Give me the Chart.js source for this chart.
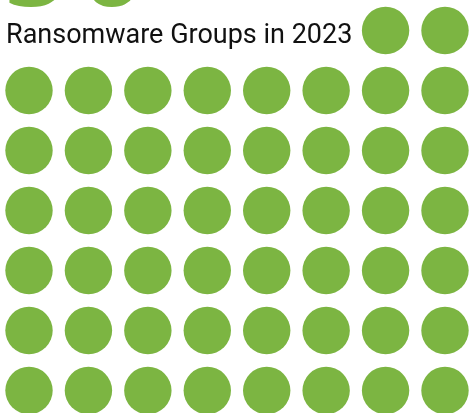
<!DOCTYPE html>
<html>
<head>
<meta charset="utf-8">
<script src="https://cdn.jsdelivr.net/npm/chart.js@4"></script>
<style>
html,body{margin:0;padding:0;background:#fff;overflow:hidden;}
#wrap{position:absolute;left:0;top:0;width:469px;height:413px;}
</style>
</head>
<body>
<div id="wrap"><canvas id="c" width="469" height="413"></canvas></div>
<script>
// ---- data ----
const headline = "50";
const titleText = "Ransomware Groups in 2023";
const groupCount = [50];          // number of ransomware groups (one dot each)
const columnsPerRow = [8];        // waffle width
const firstRowDots = [2];         // dots sharing the title row

const green = "rgb(124,181,66)";

// build dot positions (unit grid) from the count
const dots = [];
const total = groupCount[0];
const cols = columnsPerRow[0];
const first = firstRowDots[0];
for (let i = 0; i < first; i++) dots.push({x: cols - first + i, y: 0});
for (let i = 0; i < total - first; i++) dots.push({x: i % cols, y: 1 + Math.floor(i / cols)});

const textPlugin = {
  id: 'texts',
  afterDraw(chart) {
    const ctx = chart.ctx;
    ctx.save();
    ctx.fillStyle = green;
    ctx.font = "bold 112px 'Open Sans'";
    ctx.textBaseline = "alphabetic";
    ctx.textAlign = "left";
    try { ctx.letterSpacing = "12px"; } catch (e) {}
    ctx.fillText(headline, 4, 6);
    try { ctx.letterSpacing = "0px"; } catch (e) {}
    ctx.fillStyle = "#111";
    ctx.font = "27px Roboto";
    ctx.fillText(titleText, 6, 43);
    ctx.restore();
  }
};

new Chart(document.getElementById('c'), {
  type: 'scatter',
  data: {
    datasets: [{
      data: dots,
      backgroundColor: green,
      borderWidth: 0,
      pointRadius: 23.7,
      pointHoverRadius: 23.7
    }]
  },
  options: {
    responsive: false,
    animation: false,
    layout: {padding: 0, autoPadding: false},
    plugins: {legend: {display: false}, tooltip: {enabled: false}},
    scales: {
      x: {type: 'linear', display: false, min: -0.488, max: 7.404},
      y: {type: 'linear', display: false, reverse: true, min: -0.508, max: 6.375}
    }
  },
  plugins: [textPlugin]
});
</script>
</body>
</html>
